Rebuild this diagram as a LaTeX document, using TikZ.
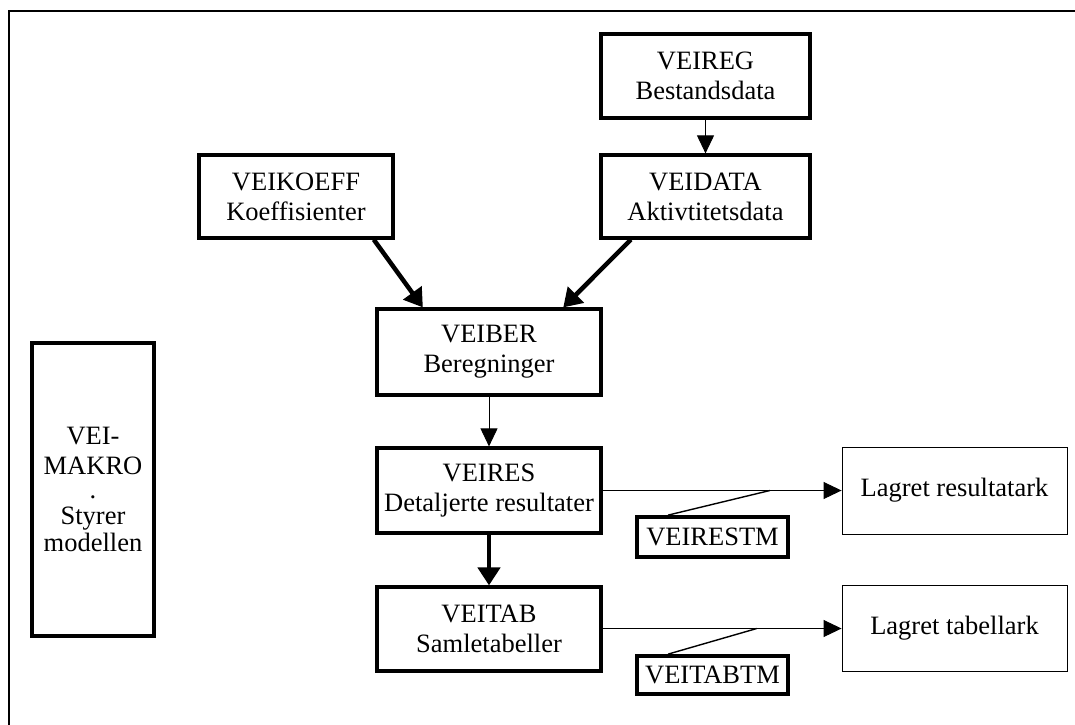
\documentclass[tikz,border=0pt]{standalone}
\usepackage{fontspec}
\setmainfont{Liberation Serif}
\usetikzlibrary{arrows.meta,calc}
\begin{document}
\begin{tikzpicture}[x=1pt,y=-1pt,
  box/.style={draw,line width=3.2pt,inner sep=0pt,align=center,
    font=\fontsize{26.5}{30}\selectfont},
  lbox/.style={draw,line width=0.9pt,inner sep=0pt,align=center,
    font=\fontsize{26.5}{30}\selectfont},
  thinarr/.style={line width=0.9pt,-{Triangle[length=18pt,width=17pt]}},
  thickarr/.style={line width=4.5pt,-{Triangle[length=18pt,width=22pt]}},
  thinline/.style={line width=0.9pt},
  lead/.style={line width=1.4pt}]
\useasboundingbox (0,0) rectangle (1075,724);
\draw[line width=2.6pt] (9,730) -- (9,11) -- (1080,11);

\node[box,minimum width=209pt,minimum height=84pt] (reg) at (705.5,76) {VEIREG\\Bestandsdata};
\node[box,minimum width=209pt,minimum height=83pt] (data) at (705.5,196.5) {VEIDATA\\Aktivtitetsdata};
\node[box,minimum width=194pt,minimum height=83pt] (koeff) at (296,196.5) {VEIKOEFF\\Koeffisienter};
\node[box,minimum width=224pt,minimum height=86pt] (ber) at (489,352) {VEIBER\\Beregninger};
\node[box,minimum width=224pt,minimum height=85pt] (res) at (489,490.5) {VEIRES\\Detaljerte resultater};
\node[box,minimum width=224pt,minimum height=84pt] (tab) at (489,629) {VEITAB\\Samletabeller};
\node[box,line width=3.8pt,minimum width=151pt,minimum height=40pt] (restm) at (712.5,537) {VEIRESTM};
\node[box,line width=3.8pt,minimum width=151pt,minimum height=38pt] (tabtm) at (712.5,675) {VEITABTM};
\node[lbox,minimum width=225pt,minimum height=87pt] (lres) at (954.5,490.5) {Lagret resultatark};
\node[lbox,minimum width=225pt,minimum height=86pt] (ltab) at (954.5,628.5) {Lagret tabellark};
\node[box,minimum width=122pt,minimum height=293pt] (makro) at (93,489.5) {VEI-\\MAKRO\\[-6pt].\\[-4pt]Styrer\\[-3pt]modellen};

\draw[thinarr] (reg.south) -- (data.north);
\draw[thickarr] (koeff.-29) -- (ber.146);
\draw[thickarr] (data.210) -- (ber.31);
\draw[thinarr] (ber.south) -- (res.north);
\draw[thickarr] (res.south) -- (tab.north);
\draw[thinarr] (res.east) -- (lres.west);
\draw[thinarr] (tab.east |- ltab.west) -- (ltab.west);
\coordinate (j1) at ($(res.east)!0.70!(lres.west)$);
\coordinate (j2) at ($(tab.east |- ltab.west)!0.645!(ltab.west)$);
\draw[lead] ($(restm.north west)+(33,0)$) -- (j1);
\draw[lead] ($(tabtm.north west)+(33,0)$) -- (j2);
\end{tikzpicture}
\end{document}
